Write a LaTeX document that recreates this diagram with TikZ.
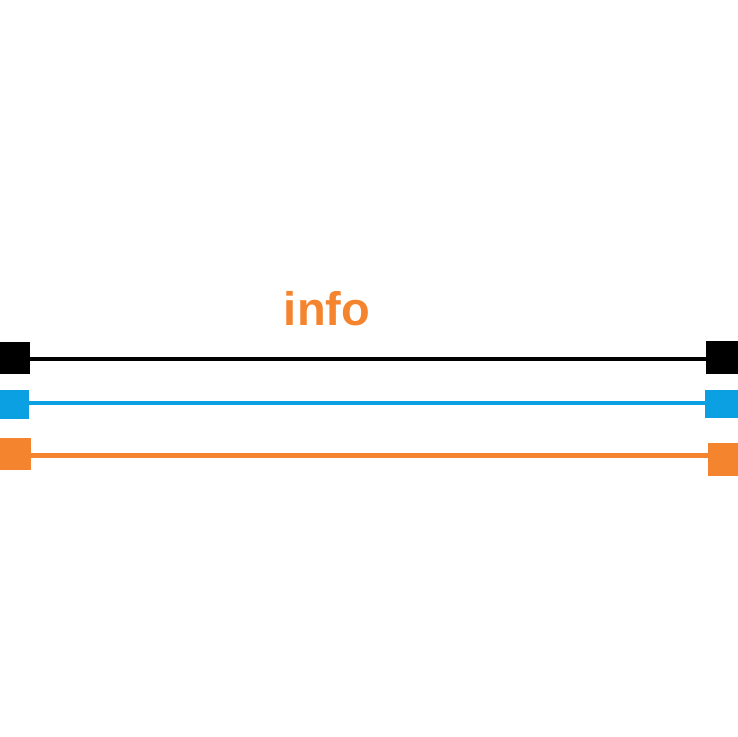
\documentclass[tikz,border=0pt]{standalone}
\usepackage{fontspec}
\setmainfont{Liberation Sans}
\definecolor{cblue}{RGB}{10,160,226}
\definecolor{corange}{RGB}{245,132,46}
\begin{document}
\begin{tikzpicture}[x=1pt,y=-1pt,
  sq/.style={draw=none,fill=#1,inner sep=0pt,outer sep=0pt},
  wire/.style={draw=#1,line width=4.2pt}]
\useasboundingbox (0,0) rectangle (738,736);
\node[sq=black,minimum width=30pt,minimum height=32pt] (lk) at (15,358) {};
\node[sq=black,minimum width=32pt,minimum height=33pt] (rk) at (722,357.5) {};
\node[sq=cblue,minimum width=29pt,minimum height=29pt] (lb) at (14.5,404.5) {};
\node[sq=cblue,minimum width=33pt,minimum height=28pt] (rb) at (721.5,404) {};
\node[sq=corange,minimum width=31pt,minimum height=32pt] (lo) at (15.5,454) {};
\node[sq=corange,minimum width=30pt,minimum height=33pt] (ro) at (723,459.5) {};
\draw[wire=black] ([yshift=-1.3pt]lk.east) -- ([yshift=-1.3pt]lk.east -| rk.west);
\draw[wire=cblue] ([yshift=1.2pt]lb.east) -- ([yshift=1.2pt]lb.east -| rb.west);
\draw[wire=corange] ([yshift=-1.5pt]lo.east) -- ([yshift=-1.5pt]lo.east -| ro.west);
\node[text=corange,font=\bfseries\fontsize{47}{50}\selectfont,anchor=base,inner sep=0pt] (info) at (327,325) {info};
\end{tikzpicture}
\end{document}
